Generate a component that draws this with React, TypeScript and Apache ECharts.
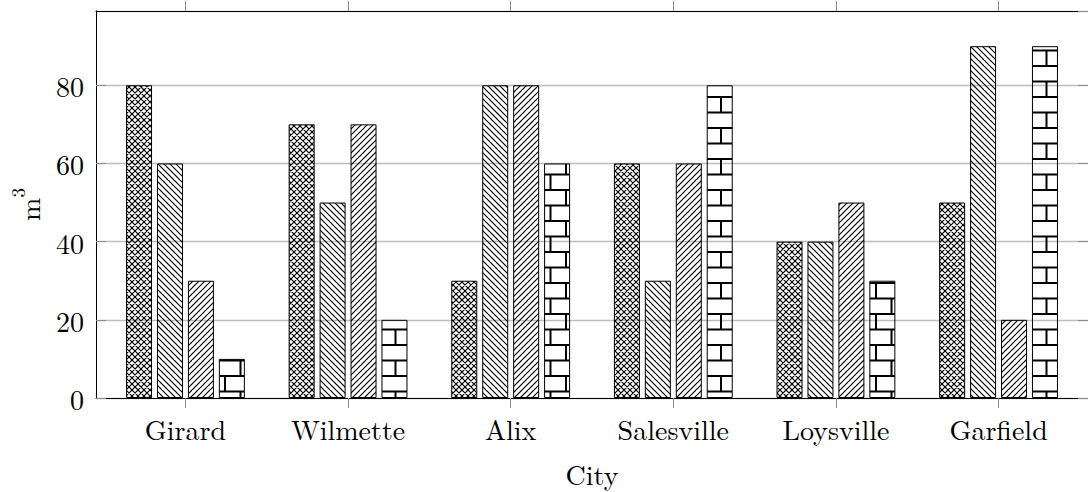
import React, { useEffect, useRef } from "react";
import * as echarts from "echarts";

const cities = ["Girard", "Wilmette", "Alix", "Salesville", "Loysville", "Garfield"];
const crossValues = [80, 70, 30, 60, 40, 50];
const nwValues = [60, 50, 80, 30, 40, 90];
const neValues = [30, 70, 80, 60, 50, 20];
const brickValues = [10, 20, 60, 80, 30, 90];
const yTickStep = 20;
const yMax = 99;
const xName = "City";

const FONT = "'Latin Modern Roman', 'CMU Serif', 'Liberation Serif', serif";

function linesCanvas(kind: "ne" | "nw" | "cross"): HTMLCanvasElement {
  const p = 6;
  const T = 30;
  const c = document.createElement("canvas");
  c.width = T;
  c.height = T;
  const ctx = c.getContext("2d")!;
  ctx.strokeStyle = "#000";
  ctx.lineWidth = 1.15;
  ctx.beginPath();
  for (let k = -8; k <= 14; k++) {
    if (kind === "ne" || kind === "cross") {
      ctx.moveTo(k * p - T, 2 * T);
      ctx.lineTo(k * p + T, 0);
    }
    if (kind === "nw" || kind === "cross") {
      ctx.moveTo(k * p - T, -T);
      ctx.lineTo(k * p + T, T);
    }
  }
  ctx.stroke();
  return c;
}

function bricksCanvas(): HTMLCanvasElement {
  const T = 31;
  const h = 15.5;
  const c = document.createElement("canvas");
  c.width = T;
  c.height = T;
  const ctx = c.getContext("2d")!;
  ctx.strokeStyle = "#000";
  ctx.lineWidth = 2;
  const y1 = 4;
  const y2 = y1 + h;
  ctx.beginPath();
  ctx.moveTo(0, y1);
  ctx.lineTo(T, y1);
  ctx.moveTo(0, y2);
  ctx.lineTo(T, y2);
  ctx.moveTo(8, y1);
  ctx.lineTo(8, y2);
  ctx.moveTo(8 + h, y2);
  ctx.lineTo(8 + h, T);
  ctx.moveTo(8 + h, 0);
  ctx.lineTo(8 + h, y1);
  ctx.stroke();
  return c;
}

export default function App() {
  const ref = useRef<HTMLDivElement>(null);

  useEffect(() => {
    if (!ref.current) return;
    const chart = echarts.init(ref.current, null, { renderer: "svg" });
    const idx = cities.map((_, i) => i);
    const pat = (img: HTMLCanvasElement) => ({ image: img, repeat: "repeat" as const });
    const makeSeries = (name: string, values: number[], img: HTMLCanvasElement) => ({
      type: "bar" as const,
      name,
      xAxisIndex: 0,
      yAxisIndex: 0,
      barWidth: 26,
      barGap: "19%",
      data: values.map((v, i) => [i, v]),
      itemStyle: { color: pat(img), borderColor: "#000", borderWidth: 1 },
      emphasis: { disabled: true },
    });
    const tickColor = "#8c8c8c";
    const labelStyle = { fontFamily: FONT, fontSize: 28, color: "#000" };
    chart.setOption({
      animation: false,
      grid: { left: 96, top: 11, width: 996, height: 387, containLabel: false },
      xAxis: [
        {
          type: "value",
          position: "bottom",
          min: -0.55,
          max: 5.55,
          name: xName,
          nameLocation: "middle",
          nameGap: 61,
          nameTextStyle: labelStyle,
          axisLine: { show: true, onZero: false, lineStyle: { color: "#000", width: 1 } },
          axisTick: { show: true, inside: false, length: 10, customValues: idx, lineStyle: { color: tickColor } },
          axisLabel: {
            show: true,
            customValues: idx,
            margin: 16,
            ...labelStyle,
            formatter: (v: number) => cities[Math.round(v)] ?? "",
          },
          splitLine: { show: false },
        },
        {
          type: "value",
          position: "top",
          min: -0.55,
          max: 5.55,
          axisLine: { show: true, onZero: false, lineStyle: { color: "#000", width: 1 } },
          axisTick: { show: true, inside: false, length: 10, customValues: idx, lineStyle: { color: tickColor } },
          axisLabel: { show: false },
          splitLine: { show: false },
        },
      ],
      yAxis: [
        {
          type: "value",
          position: "left",
          min: 0,
          max: yMax,
          interval: yTickStep,
          name: "{m|m}{s|3}",
          nameLocation: "middle",
          nameGap: 54,
          nameTextStyle: {
            rich: {
              m: { fontFamily: FONT, fontSize: 28, color: "#000", lineHeight: 34, verticalAlign: "bottom" },
              s: { fontFamily: FONT, fontSize: 19, color: "#000", lineHeight: 34, verticalAlign: "top" },
            },
          },
          axisLine: { show: true, onZero: false, lineStyle: { color: "#000", width: 1 } },
          axisTick: { show: true, inside: true, length: 10, lineStyle: { color: tickColor } },
          axisLabel: { show: true, margin: 12, showMaxLabel: false, ...labelStyle },
          splitLine: { show: true, lineStyle: { color: "#bdbdbd", width: 1.3 } },
        },
        {
          type: "value",
          position: "right",
          min: 0,
          max: yMax,
          interval: yTickStep,
          axisLine: { show: true, onZero: false, lineStyle: { color: "#000", width: 1 } },
          axisTick: { show: true, inside: true, length: 10, lineStyle: { color: tickColor } },
          axisLabel: { show: false },
          splitLine: { show: false },
        },
      ],
      series: [
        makeSeries("crosshatch", crossValues, linesCanvas("cross")),
        makeSeries("nwlines", nwValues, linesCanvas("nw")),
        makeSeries("nelines", neValues, linesCanvas("ne")),
        makeSeries("bricks", brickValues, bricksCanvas()),
      ],
    });
    return () => chart.dispose();
  }, []);

  return (
    <div
      ref={ref}
      style={{ position: "absolute", left: 0, top: 0, width: 1088, height: 492, background: "#fff" }}
    />
  );
}
